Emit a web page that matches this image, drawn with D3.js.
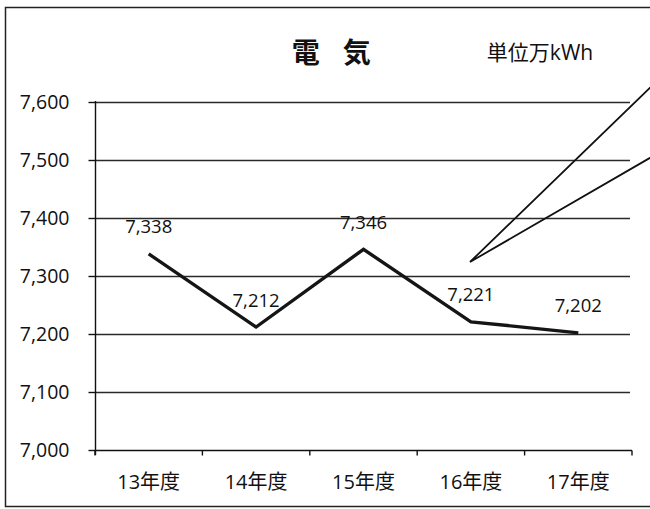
<!DOCTYPE html>
<html>
<head>
<meta charset="utf-8">
<script src="https://cdn.jsdelivr.net/npm/d3@7"></script>
<style>
  html, body { margin: 0; padding: 0; background: #fff; }
  svg { display: block; }
  text { font-family: "Open Sans", "Noto Sans CJK JP", sans-serif; fill: #111; }
</style>
</head>
<body>
<svg id="chart" width="650" height="509"></svg>
<script>
// Electricity usage by fiscal year (unit: 10,000 kWh)
const categories = ["13年度", "14年度", "15年度", "16年度", "17年度"];
const values = [7338, 7212, 7346, 7221, 7202];
const yTicks = [7000, 7100, 7200, 7300, 7400, 7500, 7600];
const title = "電　気";
const unitLabel = "単位万kWh";

const svg = d3.select("#chart");

// frame around the chart area
svg.append("rect")
  .attr("x", 5.5).attr("y", 7.5)
  .attr("width", 680).attr("height", 499)
  .attr("fill", "none").attr("stroke", "#222").attr("stroke-width", 1.5);

const x = d3.scaleBand().domain(categories).range([95, 632]);
const y = d3.scaleLinear().domain([7000, 7600]).range([450, 102]);

// horizontal gridlines
svg.append("g").selectAll("line")
  .data(yTicks.filter(d => d > 7000))
  .join("line")
  .attr("x1", 95).attr("x2", 630)
  .attr("y1", d => Math.round(y(d)) + 0.5).attr("y2", d => Math.round(y(d)) + 0.5)
  .attr("stroke", "#2a2a2a").attr("stroke-width", 1.4);

// y axis
const yAxis = svg.append("g")
  .attr("transform", "translate(95.5,0)")
  .call(d3.axisLeft(y).tickValues(yTicks).tickSize(7).tickPadding(19).tickFormat(d3.format(",")));
yAxis.select(".domain").attr("stroke", "#111").attr("stroke-width", 1.4)
  .attr("d", `M0,${y(7600) - 1}V${y(7000) + 5}`);
yAxis.selectAll(".tick line").attr("stroke", "#111").attr("stroke-width", 1.4);
yAxis.selectAll(".tick text")
  .style("font-family", "'Open Sans', 'Noto Sans CJK JP', sans-serif")
  .style("font-size", "19.5px").attr("fill", "#111");

// x axis with ticks at the category boundaries
const xAxis = svg.append("g").attr("transform", `translate(0,${y(7000) + 0.5})`);
xAxis.append("line")
  .attr("x1", x.range()[0]).attr("x2", x.range()[1])
  .attr("stroke", "#111").attr("stroke-width", 1.4);
const bounds = categories.map(c => x(c)).concat([x.range()[1]]);
xAxis.selectAll("line.tk").data(bounds).join("line")
  .attr("class", "tk")
  .attr("x1", d => d).attr("x2", d => d)
  .attr("y1", 0).attr("y2", 5)
  .attr("stroke", "#111").attr("stroke-width", 1.4);
xAxis.selectAll("text").data(categories).join("text")
  .attr("x", d => x(d) + x.bandwidth() / 2)
  .attr("y", 38)
  .attr("text-anchor", "middle")
  .style("font-size", "20px")
  .text(d => d);

// data line
const line = d3.line()
  .x((d, i) => x(categories[i]) + x.bandwidth() / 2)
  .y(d => y(d));
svg.append("path")
  .datum(values)
  .attr("d", line)
  .attr("fill", "none")
  .attr("stroke", "#151515")
  .attr("stroke-width", 3.4)
  .attr("stroke-linejoin", "miter");

// value labels
svg.append("g").selectAll("text")
  .data(values)
  .join("text")
  .attr("x", (d, i) => x(categories[i]) + x.bandwidth() / 2)
  .attr("y", d => y(d) - 20.5)
  .attr("text-anchor", "middle")
  .style("font-size", "18.5px")
  .text(d => d3.format(",")(d));

// callout pointer
svg.append("polyline")
  .attr("points", "655,83 470,262 655,155")
  .attr("fill", "none").attr("stroke", "#111").attr("stroke-width", 1.8)
  .attr("stroke-linejoin", "miter");

// title and unit
svg.append("text")
  .attr("x", 330).attr("y", 63)
  .attr("text-anchor", "middle")
  .style("font-family", "'Noto Sans CJK JP', sans-serif")
  .style("font-weight", "bold")
  .style("font-size", "28px")
  .style("letter-spacing", "-2.5px")
  .text(title);
svg.append("text")
  .attr("x", 540).attr("y", 60)
  .attr("text-anchor", "middle")
  .style("font-size", "21px")
  .text(unitLabel);
</script>
</body>
</html>
